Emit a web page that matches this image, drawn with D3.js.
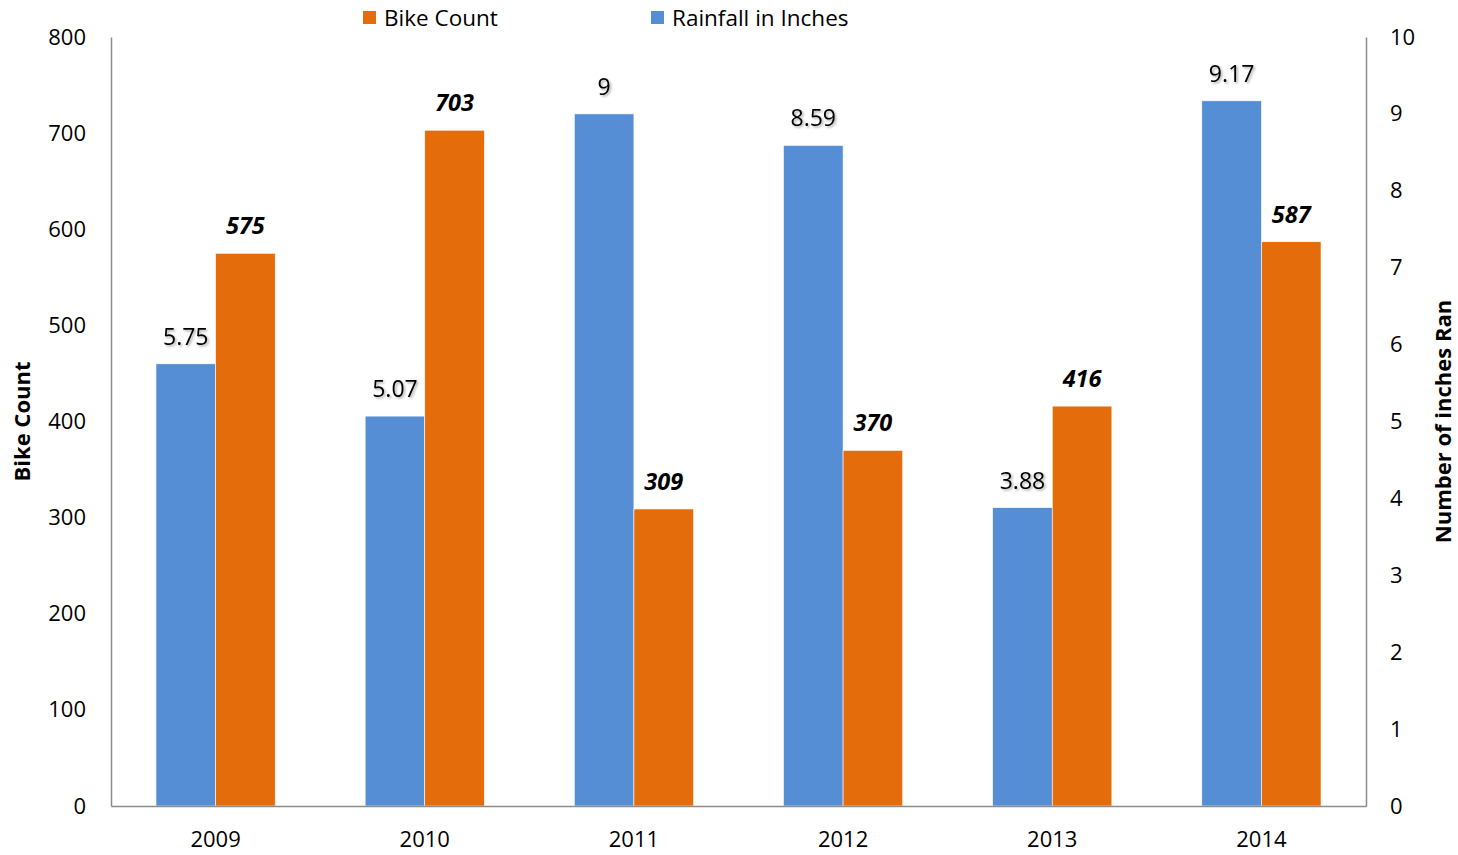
<!DOCTYPE html>
<meta charset="utf-8" />
<style>
    body { margin: 0; background: #fff; }
    text { font-family: "Open Sans", "Lato", sans-serif; fill: #000; }
    .axis-line { stroke: #8c8c8c; stroke-width: 1.5px; }
    .rain-label { filter: url(#shadow); }
</style>
<svg width="1458" height="855"></svg>
<script src="https://d3js.org/d3.v7.min.js"></script>
<script>
    // data
    var years = ["2009", "2010", "2011", "2012", "2013", "2014"];
    var bikeCount = [575, 703, 309, 370, 416, 587];
    var rainfall = [5.75, 5.07, 9, 8.59, 3.88, 9.17];
    var leftTicks = [0, 100, 200, 300, 400, 500, 600, 700, 800];
    var rightTicks = [0, 1, 2, 3, 4, 5, 6, 7, 8, 9, 10];

    var svg = d3.select("svg");
    var margin = { top: 37, right: 92, bottom: 49, left: 111 };
    var width = 1458 - margin.left - margin.right;
    var height = 855 - margin.top - margin.bottom;

    var blue = "#558ed5";
    var orange = "#e46c0a";

    // drop shadow for the rainfall labels
    var defs = svg.append("defs");
    var f = defs.append("filter").attr("id", "shadow")
        .attr("x", "-20%").attr("y", "-20%").attr("width", "140%").attr("height", "140%");
    f.append("feDropShadow").attr("dx", 1.5).attr("dy", 1.5)
        .attr("stdDeviation", 1).attr("flood-color", "#000").attr("flood-opacity", 0.35);

    var g = svg.append("g").attr("transform", "translate(" + margin.left + "," + margin.top + ")");

    var x = d3.scaleBand().domain(years).range([0, width]).paddingInner(0.43).paddingOuter(0.215);
    var yLeft = d3.scaleLinear().domain([0, 800]).range([height, 0]);
    var yRight = d3.scaleLinear().domain([0, 10]).range([height, 0]);
    var bw = x.bandwidth() / 2;

    // bars
    g.selectAll(".rain")
        .data(years)
        .enter()
        .append("rect")
        .attr("x", function (d) { return x(d); })
        .attr("y", function (d, i) { return yRight(rainfall[i]); })
        .attr("width", bw)
        .attr("height", function (d, i) { return height - yRight(rainfall[i]); })
        .attr("fill", blue)
        .attr("stroke", "#fff")
        .attr("stroke-width", 0.6);

    g.selectAll(".bike")
        .data(years)
        .enter()
        .append("rect")
        .attr("x", function (d) { return x(d) + bw; })
        .attr("y", function (d, i) { return yLeft(bikeCount[i]); })
        .attr("width", bw)
        .attr("height", function (d, i) { return height - yLeft(bikeCount[i]); })
        .attr("fill", orange)
        .attr("stroke", "#fff")
        .attr("stroke-width", 0.6);

    // value labels
    g.selectAll(".rain-label")
        .data(years)
        .enter()
        .append("text")
        .attr("class", "rain-label")
        .attr("x", function (d) { return x(d) + bw / 2; })
        .attr("y", function (d, i) { return yRight(rainfall[i]) - 19; })
        .attr("text-anchor", "middle")
        .style("font-size", "23px")
        .text(function (d, i) { return rainfall[i]; });

    g.selectAll(".bike-label")
        .data(years)
        .enter()
        .append("text")
        .attr("x", function (d) { return x(d) + bw * 1.5; })
        .attr("y", function (d, i) { return yLeft(bikeCount[i]) - 19; })
        .attr("text-anchor", "middle")
        .style("font-size", "23.5px")
        .style("font-weight", "bold")
        .style("font-style", "italic")
        .text(function (d, i) { return bikeCount[i]; });

    // axes
    var left = g.append("g")
        .call(d3.axisLeft(yLeft).tickValues(leftTicks).tickSize(0).tickPadding(25));
    var right = g.append("g")
        .attr("transform", "translate(" + width + ",0)")
        .call(d3.axisRight(yRight).tickValues(rightTicks).tickSize(0).tickPadding(24));
    var bottom = g.append("g")
        .attr("transform", "translate(0," + height + ")")
        .call(d3.axisBottom(x).tickSize(0).tickPadding(25));

    [left, right, bottom].forEach(function (a) {
        a.select(".domain").attr("class", "axis-line");
        a.selectAll("text").style("font-size", "22px").attr("fill", "#000");
    });

    // axis titles
    svg.append("text")
        .attr("transform", "translate(30," + (margin.top + height / 2) + ") rotate(-90)")
        .attr("text-anchor", "middle")
        .style("font-size", "22px")
        .style("font-weight", "bold")
        .text("Bike Count");

    svg.append("text")
        .attr("transform", "translate(1451," + (margin.top + height / 2) + ") rotate(-90)")
        .attr("text-anchor", "middle")
        .style("font-size", "22px")
        .style("font-weight", "bold")
        .text("Number of inches Ran");

    // legend
    var legendItems = [
        { name: "Bike Count", color: orange, x: 363 },
        { name: "Rainfall in Inches", color: blue, x: 651 }
    ];
    var legend = svg.append("g").selectAll("g")
        .data(legendItems)
        .enter()
        .append("g")
        .attr("transform", function (d) { return "translate(" + d.x + ",11)"; });
    legend.append("rect").attr("width", 13).attr("height", 13).attr("fill", function (d) { return d.color; });
    legend.append("text").attr("x", 21).attr("y", 14.5)
        .style("font-size", "22.5px")
        .text(function (d) { return d.name; });
</script>
